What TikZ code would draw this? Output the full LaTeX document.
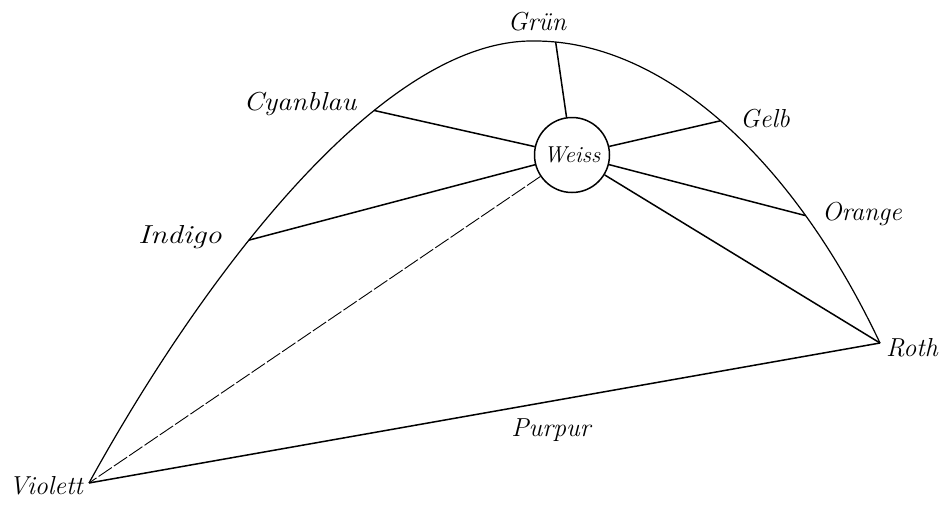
\documentclass[tikz,border=0pt]{standalone}
\tikzset{
  lbl/.style={font=\fontsize{26}{30}\selectfont\itshape, inner sep=0pt},
  ray/.style={line width=1.5pt},
  faint/.style={line width=0.9pt, dash pattern=on 16pt off 2.5pt},
  bow/.style={line width=1.2pt},
  pt/.style={coordinate},
  wheel/.style={draw, circle, line width=1.5pt, minimum size=75pt, inner sep=0pt, font=\fontsize{23}{26}\selectfont\itshape}
}
\begin{document}
\begin{tikzpicture}[x=1pt,y=-1pt]
\useasboundingbox[fill=white] (0,0) rectangle (946,506);
\coordinate (V) at (89,483);
\coordinate (T) at (535,41);
\coordinate (R) at (880,343);
% curve, with the colour points on it
\draw[bow] (V) .. controls (199,283) and (380,38) ..
      node[pt, pos=0.40] (I) {} node[pt, pos=0.665] (C) {} (T)
   .. controls (660,41) and (790,153) ..
      node[pt, pos=0.055] (G) {} node[pt, pos=0.5] (Ge) {} node[pt, pos=0.75] (O) {} (R);
% Weiss
\node[wheel] (W) at (572,155) {Weiss};
% rays
\draw[ray] (W) -- (G);
\draw[ray] (W) -- (C);
\draw[ray] (W) -- (Ge);
\draw[ray] (W) -- (O);
\draw[ray] (W) -- (I);
\draw[ray] (W) -- (R);
\draw[faint] (W) -- (V);
\draw[ray] (V) -- (R);
% labels
\node[lbl] (lG) at (537,22) {Grün};
\node[lbl, xscale=1.1] (lC) at (300,104) {Cyanblau};
\node[lbl] (lGe) at (765,119) {Gelb};
\node[lbl] (lO) at (862,214) {Orange};
\node[lbl, xscale=1.2] (lI) at (180,237) {Indigo};
\node[lbl] (lR) at (912,348) {Roth};
\node[lbl] (lV) at (46,486) {Violett};
\node[lbl] (lP) at (551,430) {Purpur};
\end{tikzpicture}
\end{document}
